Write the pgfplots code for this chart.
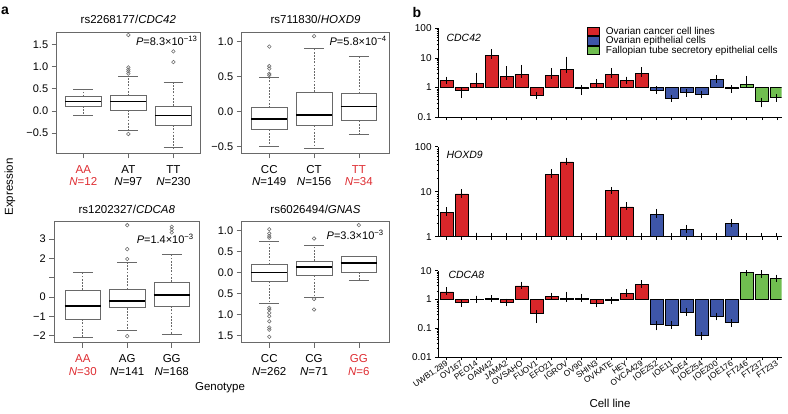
\documentclass[border=0pt]{standalone}
\usepackage{fontspec}
\setmainfont{Liberation Sans}
\usepackage{pgfplots}
\pgfplotsset{compat=1.18}
\usepgfplotslibrary{statistics}
\usepackage{pgfplotstable}

\definecolor{barred}{RGB}{216,38,42}
\definecolor{barblue}{RGB}{62,86,168}
\definecolor{bargreen}{RGB}{112,190,80}
\definecolor{tred}{RGB}{222,45,50}
\definecolor{framegray}{RGB}{105,105,105}

\pgfplotsset{
  boxax/.style={
    scale only axis, height=121pt,
    xtick={1,2,3},
    tick align=outside, xtick pos=bottom, ytick pos=left,
    major tick length=5pt,
    axis line style={framegray, line width=0.6pt},
    every tick/.style={framegray, line width=0.6pt},
    yticklabel style={font=\fontsize{11}{13}\selectfont},
    xticklabel style={align=center, font=\fontsize{11.5}{12.5}\selectfont, yshift=-3.5pt},
    title style={font=\fontsize{11.5}{13}\selectfont, yshift=-1pt},
    boxplot/draw direction=y,
    boxplot/box extend=0.8,
    boxplot/whisker extend=0.44,
    boxplot/every median/.style={black, line width=1.6pt},
    boxplot/draw/lower whisker/.code={%
      \draw[dash pattern=on 1.8pt off 1.4pt]
        (boxplot cs:\pgfplotsboxplotvalue{lower quartile}) --
        (boxplot cs:\pgfplotsboxplotvalue{lower whisker});
      \draw (boxplot whisker cs:\pgfplotsboxplotvalue{lower whisker},0) --
        (boxplot whisker cs:\pgfplotsboxplotvalue{lower whisker},1);
    },
    boxplot/draw/upper whisker/.code={%
      \draw[dash pattern=on 1.8pt off 1.4pt]
        (boxplot cs:\pgfplotsboxplotvalue{upper quartile}) --
        (boxplot cs:\pgfplotsboxplotvalue{upper whisker});
      \draw (boxplot whisker cs:\pgfplotsboxplotvalue{upper whisker},0) --
        (boxplot whisker cs:\pgfplotsboxplotvalue{upper whisker},1);
    },
  },
  bx/.style={boxplot prepared={#1}, draw=framegray, fill=white, line width=0.6pt,
    mark=o, mark size=1.8pt, mark options={solid, draw=framegray, line width=0.55pt}},
  mybaraxis/.style={
    scale only axis, width=343.4pt,
    xmin=-0.56, xmax=22.33,
    axis x line=bottom, axis y line=left,
    axis line style={-, black, line width=0.6pt},
    xtick={0,...,22}, tick align=outside,
    major tick length=3.2pt, minor tick length=1.8pt,
    every tick/.style={black, line width=0.5pt},
    yticklabel style={font=\fontsize{10}{12}\selectfont},
  },
  mybars/.style={ybar, bar width=12.6pt, bar shift=0pt, fill=#1, draw=black, line width=0.6pt,
    error bars/y dir=both, error bars/y explicit,
    error bars/error mark options={black, line width=0.9pt, mark size=3.6pt},
    error bars/error bar style={black, line width=0.9pt}},
}

\begin{document}
\begin{tikzpicture}
\useasboundingbox (0,0) rectangle (788pt,413pt);

% ---------------- Panel a1 : CDC42
\begin{axis}[boxax, at={(56.7pt,259.7pt)}, anchor=south west, width=143.3pt,
  xmin=0.41, xmax=3.59, ymin=-0.955, ymax=1.77,
  ytick={-0.5,0,0.5,1,1.5}, yticklabels={−0.5,0.0,0.5,1.0,1.5},
  xticklabels={{\textcolor{tred}{AA}\\\textcolor{tred}{\textit{N}=12}},{AT\\\textit{N}=97},{TT\\\textit{N}=230}},
  title={rs2268177/\textit{CDC42}}]
\addplot[bx={lower whisker=-0.105, lower quartile=0.11, median=0.21, upper quartile=0.32, upper whisker=0.49, draw position=1}] coordinates {};
\addplot[bx={lower whisker=-0.44, lower quartile=0.02, median=0.21, upper quartile=0.34, upper whisker=0.77, draw position=2}] table[row sep=\\,y index=0] {data\\ 1.71\\ 0.98\\ 0.93\\ 0.89\\ 0.84\\ -0.52\\};
\addplot[bx={lower whisker=-0.83, lower quartile=-0.32, median=-0.105, upper quartile=0.11, upper whisker=0.64, draw position=3}] table[row sep=\\,y index=0] {data\\ 1.34\\ 1.10\\};
\node[anchor=north east, inner sep=1pt, font=\fontsize{11}{12}\selectfont] at (rel axis cs:0.99,0.975) {\textit{P}=8.3×10\textsuperscript{−13}};
\end{axis}

% ---------------- Panel a2 : HOXD9
\begin{axis}[boxax, at={(241.7pt,259.7pt)}, anchor=south west, width=147.6pt,
  xmin=0.384, xmax=3.68, ymin=-0.60, ymax=1.135,
  ytick={-0.5,0,0.5,1}, yticklabels={−0.5,0.0,0.5,1.0},
  xticklabels={{CC\\\textit{N}=149},{CT\\\textit{N}=156},{\textcolor{tred}{TT}\\\textcolor{tred}{\textit{N}=34}}},
  title={rs711830/\textit{HOXD9}}]
\addplot[bx={lower whisker=-0.495, lower quartile=-0.26, median=-0.106, upper quartile=0.053, upper whisker=0.495, draw position=1}] table[row sep=\\,y index=0] {data\\ 0.93\\ 0.65\\ 0.615\\ 0.54\\ 0.52\\};
\addplot[bx={lower whisker=-0.53, lower quartile=-0.20, median=-0.048, upper quartile=0.28, upper whisker=0.90, draw position=2}] table[row sep=\\,y index=0] {data\\ 1.08\\};
\addplot[bx={lower whisker=-0.33, lower quartile=-0.13, median=0.072, upper quartile=0.255, upper whisker=0.79, draw position=3}] coordinates {};
\node[anchor=north east, inner sep=1pt, font=\fontsize{11}{12}\selectfont] at (rel axis cs:0.99,0.975) {\textit{P}=5.8×10\textsuperscript{−4}};
\end{axis}

% ---------------- Panel a3 : CDCA8
\begin{axis}[boxax, at={(54.3pt,70.3pt)}, anchor=south west, width=145pt,
  xmin=0.36, xmax=3.62, ymin=-2.36, ymax=3.9,
  ytick={-2,-1,0,1,2,3}, yticklabels={−2,−1,0,,2,3},
  xticklabels={{\textcolor{tred}{AA}\\\textcolor{tred}{\textit{N}=30}},{AG\\\textit{N}=141},{GG\\\textit{N}=168}},
  title={rs1202327/\textit{CDCA8}}]
\addplot[bx={lower whisker=-2.09, lower quartile=-1.14, median=-0.45, upper quartile=0.36, upper whisker=1.28, draw position=1}] coordinates {};
\addplot[bx={lower whisker=-1.71, lower quartile=-0.55, median=-0.21, upper quartile=0.40, upper whisker=1.79, draw position=2}] table[row sep=\\,y index=0] {data\\ 3.72\\ 2.48\\ 1.97\\ -2.02\\};
\addplot[bx={lower whisker=-1.91, lower quartile=-0.47, median=0.12, upper quartile=0.79, upper whisker=2.22, draw position=3}] table[row sep=\\,y index=0] {data\\ 3.64\\ 3.50\\ 3.34\\};
\node[anchor=north east, inner sep=1pt, font=\fontsize{11}{12}\selectfont] at (rel axis cs:0.97,0.905) {\textit{P}=1.4×10\textsuperscript{−3}};
\end{axis}

% ---------------- Panel a4 : GNAS
\begin{axis}[boxax, at={(241.7pt,70.3pt)}, anchor=south west, width=147.6pt,
  xmin=0.384, xmax=3.68, ymin=-1.67, ymax=1.21,
  ytick={-1.5,-1,-0.5,0,0.5,1}, yticklabels={1.5,1.0,0.5,0.0,0.5,1.0},
  xticklabels={{CC\\\textit{N}=262},{CG\\\textit{N}=71},{\textcolor{tred}{GG}\\\textcolor{tred}{\textit{N}=6}}},
  title={rs6026494/\textit{GNAS}}]
\addplot[bx={lower whisker=-0.74, lower quartile=-0.21, median=0.0, upper quartile=0.19, upper whisker=0.75, draw position=1}] table[row sep=\\,y index=0] {data\\ 1.03\\ 0.93\\ 0.87\\ 0.83\\ -0.84\\ -0.88\\ -0.96\\ -1.04\\ -1.16\\ -1.31\\ -1.36\\ -1.53\\};
\addplot[bx={lower whisker=-0.58, lower quartile=-0.07, median=0.135, upper quartile=0.27, upper whisker=0.64, draw position=2}] table[row sep=\\,y index=0] {data\\ 0.81\\ -0.63\\ -0.88\\};
\addplot[bx={lower whisker=-0.18, lower quartile=0.016, median=0.23, upper quartile=0.39, upper whisker=0.39, draw position=3}] table[row sep=\\,y index=0] {data\\ 1.13\\};
\node[anchor=north east, inner sep=1pt, font=\fontsize{11}{12}\selectfont] at (rel axis cs:0.97,0.94) {\textit{P}=3.3×10\textsuperscript{−3}};
\end{axis}

% ---------------- Panel b1 : CDC42
\begin{axis}[mybaraxis, ymode=log, at={(438.3pt,296pt)}, anchor=south west, height=88.7pt,
  ymin=0.1, ymax=100, ytick={0.1,1,10,100}, yticklabels={0.1,1,10,100},
  minor ytick={0.2,0.3,0.4,0.5,0.6,0.7,0.8,0.9,2,3,4,5,6,7,8,9,20,30,40,50,60,70,80,90},
  xticklabels={},
  legend style={at={(0.432,1.035)}, anchor=north west, draw=none, fill=none,
    font=\fontsize{10}{11}\selectfont, row sep=-2.2pt, inner sep=0pt,
    nodes={inner sep=1.5pt}},
  legend cell align=left,
  legend image code/.code={\draw[#1] (0pt,-4.4pt) rectangle (12pt,4.4pt);}]
\addplot[mybars=barred] table[x=x, y=y, y error plus=ep, y error minus=em, row sep=\\] {
x y ep em\\ 0 1.69 0.08 0\\ 1 0.77 0 0.19\\ 2 1.37 1.03 0\\ 3 12.5 2.5 0\\ 4 2.42 1.45 0\\
5 2.76 1.6 0\\ 6 0.53 0 0\\ 7 2.49 0.9 0\\ 8 4.0 4.3 0\\ 9 0.93 0 0.2\\ 10 1.4 0.05 0\\
11 2.7 0.7 0\\ 12 1.75 0 0\\ 13 2.95 0.75 0\\};
\addplot[mybars=barblue] table[x=x, y=y, y error plus=ep, y error minus=em, row sep=\\] {
x y ep em\\ 14 0.82 0 0.03\\ 15 0.42 0 0\\ 16 0.68 0 0.03\\ 17 0.59 0 0.03\\ 18 1.9 0.05 0\\ 19 0.9 0 0.02\\};
\addplot[mybars=bargreen] table[x=x, y=y, y error plus=ep, y error minus=em, row sep=\\] {
x y ep em\\ 20 1.3 0.55 0\\ 21 0.34 0 0.06\\ 22 0.46 0 0.02\\};
\legend{\hspace{5pt}Ovarian cancer cell lines, \hspace{5pt}Ovarian epithelial cells, \hspace{5pt}Fallopian tube secretory epithelial cells}
\end{axis}

% ---------------- Panel b2 : HOXD9
\begin{axis}[mybaraxis, ymode=log, at={(438.3pt,176.3pt)}, anchor=south west, height=90pt,
  ymin=1, ymax=100, ytick={1,10,100}, yticklabels={1,10,100},
  minor ytick={2,3,4,5,6,7,8,9,20,30,40,50,60,70,80,90}, xticklabels={}]
\addplot[mybars=barred] table[x=x, y=y, y error plus=ep, y error minus=em, row sep=\\] {
x y ep em\\ 0 3.4 0.35 0\\ 1 8.9 0.5 0\\ 2 1.03 0 0\\ 3 1.0 0 0\\ 4 1.0 0 0\\ 5 1.0 0 0\\ 6 1.0 0 0\\
7 24 2.2 0\\ 8 46 1.8 0\\ 9 1.0 0 0\\ 10 1.0 0 0\\ 11 10.5 0.2 0\\ 12 4.6 0.3 0\\ 13 1.0 0 0\\};
\addplot[mybars=barblue] table[x=x, y=y, y error plus=ep, y error minus=em, row sep=\\] {
x y ep em\\ 14 3.1 0.35 0\\ 15 1.0 0 0\\ 16 1.45 0.07 0\\ 17 1.0 0 0\\ 18 1.0 0 0\\ 19 1.98 0.05 0\\};
\addplot[mybars=bargreen] table[x=x, y=y, y error plus=ep, y error minus=em, row sep=\\] {
x y ep em\\ 20 1.0 0 0\\ 21 1.0 0 0\\ 22 1.0 0 0\\};
\end{axis}

% ---------------- Panel b3 : CDCA8
\begin{axis}[mybaraxis, ymode=log, at={(438.3pt,56pt)}, anchor=south west, height=86.3pt,
  ymin=0.01, ymax=10, ytick={0.01,0.1,1,10}, yticklabels={0.01,0.1,1,10},
  minor ytick={0.02,0.03,0.04,0.05,0.06,0.07,0.08,0.09,0.2,0.3,0.4,0.5,0.6,0.7,0.8,0.9,2,3,4,5,6,7,8,9},
  xticklabels={UWB1.289,OV167,PEO14,OAW42,JAMA2,OVSAHO,FUOV1,EFO21,IGROV,OV90,SHIN3,OVKATE,HEY,OVCA429,IOE252,IOE11,IOE4,IOE254,IOE200,IOE176,FT246,FT237,FT233},
  xticklabel style={rotate=35, anchor=east, font=\fontsize{8.3}{9}\selectfont, inner sep=1pt, yshift=-2pt}]
\addplot[mybars=barred] table[x=x, y=y, y error plus=ep, y error minus=em, row sep=\\] {
x y ep em\\ 0 1.84 0.15 0\\ 1 0.77 0 0.02\\ 2 1.02 0 0\\ 3 1.06 0 0\\ 4 0.8 0 0.03\\ 5 2.97 0.15 0\\
6 0.32 0 0.12\\ 7 1.24 0.05 0\\ 8 1.1 0.3 0\\ 9 1.12 0.05 0\\ 10 0.73 0 0.02\\ 11 0.93 0 0.02\\
12 1.66 0.05 0\\ 13 3.39 0.15 0\\};
\addplot[mybars=barblue] table[x=x, y=y, y error plus=ep, y error minus=em, row sep=\\] {
x y ep em\\ 14 0.137 0 0.024\\ 15 0.13 0 0.005\\ 16 0.37 0 0.02\\ 17 0.055 0 0.002\\ 18 0.26 0 0.01\\ 19 0.155 0 0.005\\};
\addplot[mybars=bargreen] table[x=x, y=y, y error plus=ep, y error minus=em, row sep=\\] {
x y ep em\\ 20 9.0 0.3 0\\ 21 7.5 0.2 0\\ 22 5.3 0.15 0\\};
\end{axis}

% ---------------- labels
\node[font=\fontsize{14}{14}\selectfont\bfseries] at (5pt,402pt) {a};
\node[font=\fontsize{14}{14}\selectfont\bfseries] at (417pt,401pt) {b};
\node[rotate=90, font=\fontsize{11.5}{13}\selectfont] at (10pt,226pt) {Expression};
\node[font=\fontsize{11.5}{13}\selectfont] at (220pt,25pt) {Genotype};
\node[font=\fontsize{11.5}{13}\selectfont] at (610pt,10pt) {Cell line};
\node[anchor=west, font=\fontsize{10.5}{12}\selectfont\itshape] at (443pt,375pt) {CDC42};
\node[anchor=west, font=\fontsize{10.5}{12}\selectfont\itshape] at (443pt,258pt) {HOXD9};
\node[anchor=west, font=\fontsize{10.5}{12}\selectfont\itshape] at (445pt,138pt) {CDCA8};
\end{tikzpicture}
\end{document}
